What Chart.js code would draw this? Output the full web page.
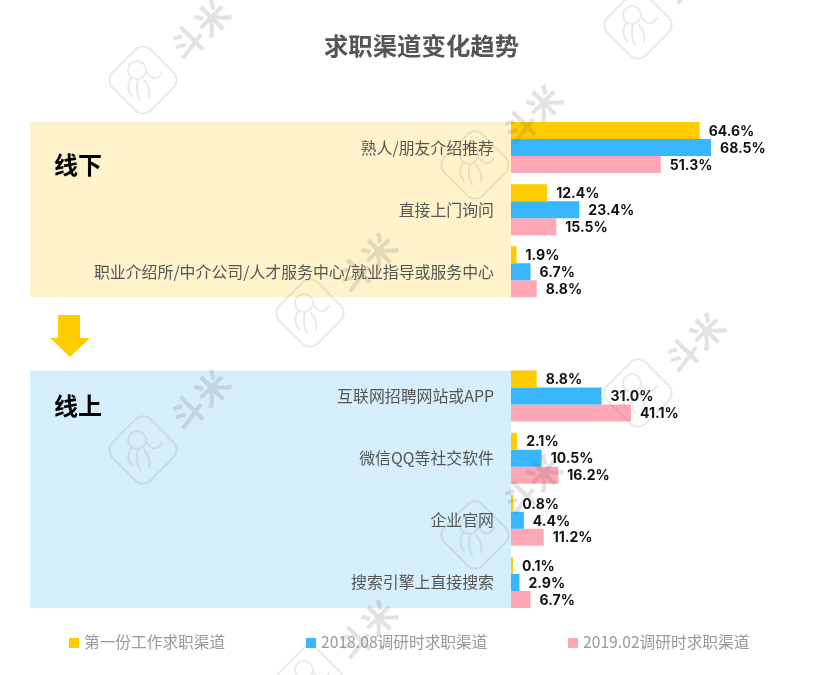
<!DOCTYPE html>
<html lang="zh-CN">
<head>
    <meta charset="UTF-8">
    <title>求职渠道变化趋势</title>
    <script src="https://cdn.jsdelivr.net/npm/chart.js"></script>
    <style>
        body { margin: 0; background: #fff; }
        .wrap { position: relative; width: 827px; height: 675px; overflow: hidden; }
        .legend { position: absolute; top: 631px; left: 0; font: 15.7px 'Noto Sans CJK SC', sans-serif; color: #999; white-space: nowrap; line-height: 22px; }
        .legend i { display: inline-block; width: 10px; height: 10px; margin-right: 5px; }
    </style>
</head>
<body>
<div class="wrap">
    <canvas id="chart" width="827" height="675"></canvas>
    <div class="legend" id="l0" style="left:69px"></div>
    <div class="legend" id="l1" style="left:306px"></div>
    <div class="legend" id="l2" style="left:568px"></div>
</div>

<script>
    // blank category is the gap with the arrow between the two groups
    const categories = ['熟人/朋友介绍推荐', '直接上门询问', '职业介绍所/中介公司/人才服务中心/就业指导或服务中心', '',
        '互联网招聘网站或APP', '微信QQ等社交软件', '企业官网', '搜索引擎上直接搜索'];
    const seriesNames = ['第一份工作求职渠道', '2018.08调研时求职渠道', '2019.02调研时求职渠道'];
    const firstJob = [64.6, 12.4, 1.9, null, 8.8, 2.1, 0.8, 0.1];
    const survey201808 = [68.5, 23.4, 6.7, null, 31.0, 10.5, 4.4, 2.9];
    const survey201902 = [51.3, 15.5, 8.8, null, 41.1, 16.2, 11.2, 6.7];
    const seriesColors = ['#FFCC00', '#38B6FF', '#FFA8B5'];

    const cjk = "'Noto Sans CJK SC', sans-serif";

    const groupBands = {
        id: 'groupBands',
        beforeDraw(chart) {
            const c = chart.ctx, y = chart.scales.y, left = chart.chartArea.left;
            const half = (y.getPixelForValue(1) - y.getPixelForValue(0)) * 0.41;
            const band = (from, to, color, name, nameDrop) => {
                const top = y.getPixelForValue(from) - half;
                const bottom = y.getPixelForValue(to) + half;
                c.fillStyle = color;
                c.fillRect(30, top, left - 30, bottom - top);
                c.fillStyle = '#000';
                c.font = 'bold 24px ' + cjk;
                c.textBaseline = 'middle';
                c.textAlign = 'left';
                c.fillText(name, 54, top + nameDrop);
            };
            c.save();
            band(0, 2, '#FEF3CB', '线下', 43);
            band(4, 7, '#D6EFFD', '线上', 35);
            // arrow
            const mid = y.getPixelForValue(3);
            c.fillStyle = '#FFCC00';
            c.beginPath();
            c.moveTo(58, mid - 19);
            c.lineTo(80, mid - 19);
            c.lineTo(80, mid + 4);
            c.lineTo(90, mid + 4);
            c.lineTo(70, mid + 23);
            c.lineTo(50, mid + 4);
            c.lineTo(58, mid + 4);
            c.closePath();
            c.fill();
            c.restore();
        }
    };

    const valueLabels = {
        id: 'valueLabels',
        afterDatasetsDraw(chart) {
            const c = chart.ctx;
            c.save();
            c.font = "700 14px Inter, sans-serif";
            c.fillStyle = '#111';
            c.textAlign = 'left';
            c.textBaseline = 'middle';
            chart.data.datasets.forEach((ds, i) => {
                chart.getDatasetMeta(i).data.forEach((bar, j) => {
                    if (ds.data[j] === null) return;
                    c.fillText(ds.data[j].toFixed(1) + '%', bar.x + 9, bar.y + 1);
                });
            });
            c.restore();
        }
    };

    // site watermark, repeated over the whole picture
    const watermarkSpots = [[143, 80], [310, 313], [310, 680], [475, 165], [475, 535], [638, 25], [638, 393], [143, 450]];
    const watermark = {
        id: 'watermark',
        afterDraw(chart) {
            const c = chart.ctx;
            watermarkSpots.forEach(([x, y]) => {
                c.save();
                c.translate(x, y);
                c.strokeStyle = 'rgba(90,90,90,0.13)';
                c.fillStyle = 'rgba(90,90,90,0.17)';
                c.lineWidth = 2;
                c.lineCap = 'round';
                // octopus
                c.beginPath();
                c.arc(-6, -10, 9, 0, Math.PI * 2);
                c.moveTo(-12, -2); c.quadraticCurveTo(-18, 8, -11, 16);
                c.moveTo(-5, 0); c.quadraticCurveTo(-8, 10, -3, 20);
                c.moveTo(1, 0); c.quadraticCurveTo(8, 8, 6, 17);
                c.moveTo(3, -8); c.quadraticCurveTo(12, 4, 19, -7);
                c.stroke();
                c.save();
                c.rotate(-Math.PI / 4);
                c.beginPath();
                c.roundRect(-27, -27, 54, 54, 11);
                c.stroke();
                c.restore();
                // name
                c.translate(57, -50);
                c.rotate(-Math.PI / 4);
                c.font = 'bold 34px ' + cjk;
                c.textAlign = 'center';
                c.textBaseline = 'middle';
                c.fillText('斗米', 0, 0);
                c.restore();
            });
        }
    };

    new Chart(document.getElementById('chart'), {
        type: 'bar',
        data: {
            labels: categories,
            datasets: [
                { label: seriesNames[0], data: firstJob, backgroundColor: seriesColors[0] },
                { label: seriesNames[1], data: survey201808, backgroundColor: seriesColors[1] },
                { label: seriesNames[2], data: survey201902, backgroundColor: seriesColors[2] }
            ]
        },
        options: {
            indexAxis: 'y',
            responsive: false,
            animation: false,
            categoryPercentage: 0.82,
            barPercentage: 1,
            minBarLength: 2,
            layout: { padding: { left: 16, bottom: 61.5 } },
            scales: {
                x: { display: false, min: 0, max: 108.2 },
                y: {
                    grid: { display: false, drawTicks: false },
                    border: { display: false },
                    ticks: { autoSkip: false, color: '#555', padding: 17, font: { family: cjk, size: 15.9 } },
                    afterFit(scale) { scale.width = 495; }
                }
            },
            plugins: {
                legend: { display: false },
                tooltip: { enabled: false },
                title: {
                    display: true,
                    text: '求职渠道变化趋势',
                    color: '#555',
                    font: { family: cjk, size: 24.4, weight: 'bold' },
                    padding: { top: 31, bottom: 56.2 }
                }
            }
        },
        plugins: [groupBands, valueLabels, watermark]
    });

    seriesNames.forEach((name, i) => {
        document.getElementById('l' + i).innerHTML = '<i style="background:' + seriesColors[i] + '"></i>' + name;
    });
</script>
</body>
</html>
